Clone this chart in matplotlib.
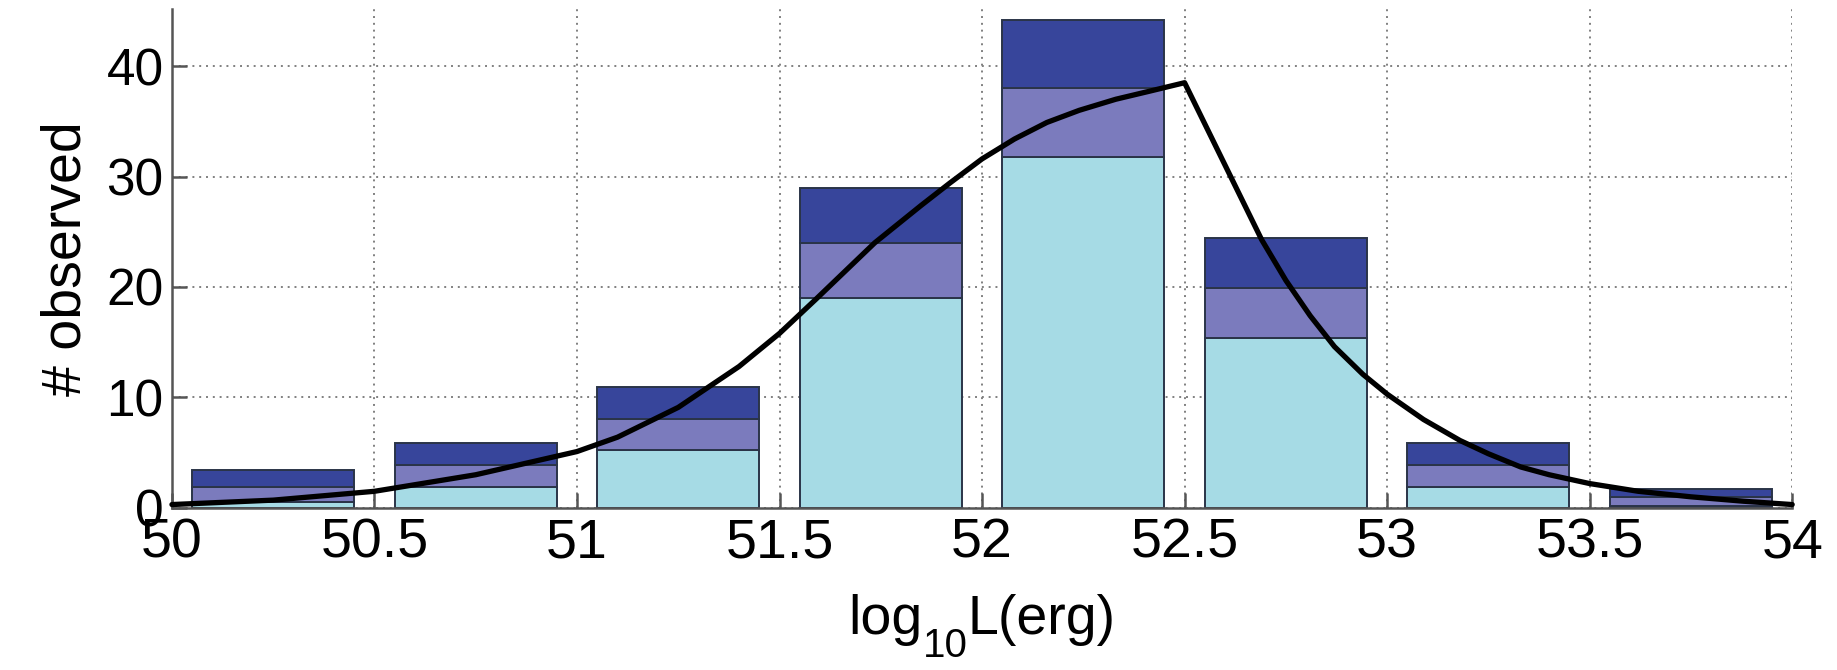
import numpy as np
import matplotlib
matplotlib.use('Agg')
import matplotlib.pyplot as plt

plt.rcParams['font.family'] = ['Liberation Sans', 'DejaVu Sans']

# Histogram bins (log10 L), bin width 0.5
bin_centers = [50.25, 50.75, 51.25, 51.75, 52.25, 52.75, 53.25, 53.75]
# Stacked levels: lower band, middle, upper
lower = [0.5, 1.9, 5.2, 19.0, 31.8, 15.4, 1.9, 0.2]
middle = [1.9, 3.85, 8.05, 24.0, 38.0, 19.9, 3.85, 0.95]
upper = [3.4, 5.9, 10.9, 29.0, 44.2, 24.4, 5.9, 1.7]

# Model luminosity function curve
curve_x = [50.0, 50.25, 50.5, 50.75, 51.0, 51.1, 51.25, 51.4, 51.5, 51.59,
           51.735, 51.85, 51.92, 52.0, 52.08, 52.16, 52.24, 52.33, 52.41,
           52.5, 52.69, 52.75, 52.81, 52.87, 52.94, 53.0, 53.09, 53.18,
           53.25, 53.33, 53.4, 53.5, 53.62, 53.75, 53.88, 54.0]
curve_y = [0.3, 0.7, 1.5, 3.0, 5.1, 6.4, 9.1, 12.8, 15.8, 18.9,
           24.0, 27.4, 29.4, 31.6, 33.4, 34.9, 36.0, 37.0, 37.7,
           38.5, 24.3, 20.6, 17.4, 14.6, 12.1, 10.3, 8.0, 6.1,
           4.9, 3.7, 3.0, 2.2, 1.5, 1.0, 0.6, 0.3]

xticks = [50, 50.5, 51, 51.5, 52, 52.5, 53, 53.5, 54]
xticklabels = ['50', '50.5', '51', '51.5', '52', '52.5', '53', '53.5', '54']
yticks = [0, 10, 20, 30, 40]

c_low = '#a6dbe5'
c_mid = '#7b7bbd'
c_top = '#37459b'
edge = '#2a3448'

W, H = 1837, 670
fig = plt.figure(figsize=(W / 100, H / 100), dpi=100)
ax = fig.add_axes([0.0936, 0.242, 0.882, 0.745])

lower = np.array(lower)
middle = np.array(middle)
upper = np.array(upper)

w = 0.4
ax.bar(bin_centers, lower, width=w, color=c_low, edgecolor=edge, linewidth=1.4, zorder=2)
ax.bar(bin_centers, middle - lower, bottom=lower, width=w, color=c_mid,
       edgecolor=edge, linewidth=1.4, zorder=2)
ax.bar(bin_centers, upper - middle, bottom=middle, width=w, color=c_top,
       edgecolor=edge, linewidth=1.4, zorder=2)

ax.plot(curve_x, curve_y, color='black', linewidth=3.8, zorder=3,
        solid_joinstyle='round', solid_capstyle='round', clip_on=False)

ax.set_xlim(50, 54)
ax.set_ylim(0, 45.2)
ax.set_xticks(xticks)
ax.set_xticklabels(xticklabels)
ax.set_yticks(yticks)

ax.grid(True, color='#808080', linestyle=(0, (1, 2.5)), linewidth=1.4, zorder=0)
ax.set_axisbelow(True)

for s in ['top', 'right']:
    ax.spines[s].set_visible(False)
for s in ['left', 'bottom']:
    ax.spines[s].set_color('#555555')
    ax.spines[s].set_linewidth(1.8)

ax.tick_params(axis='both', direction='in', length=11, width=1.8, color='#555555')
ax.tick_params(axis='x', labelsize=40, pad=7)
ax.tick_params(axis='y', labelsize=37, pad=6)

ax.set_ylabel('# observed', fontsize=40, labelpad=10)

# x label built from pieces so the subscript sits low, MATLAB style
parts = [('log', 40, 36), ('10', 29, 13), ('L(erg)', 40, 36)]
texts = [fig.text(0, y / H, s, fontsize=fs, va='baseline', ha='left')
         for s, fs, y in parts]
renderer = fig.canvas.get_renderer()
widths = [t.get_window_extent(renderer).width for t in texts]
x0 = (0.0936 + 0.882 / 2) * W - sum(widths) / 2
for t, wd in zip(texts, widths):
    t.set_x(x0 / W)
    x0 += wd

fig.savefig('out.png', dpi=100)
